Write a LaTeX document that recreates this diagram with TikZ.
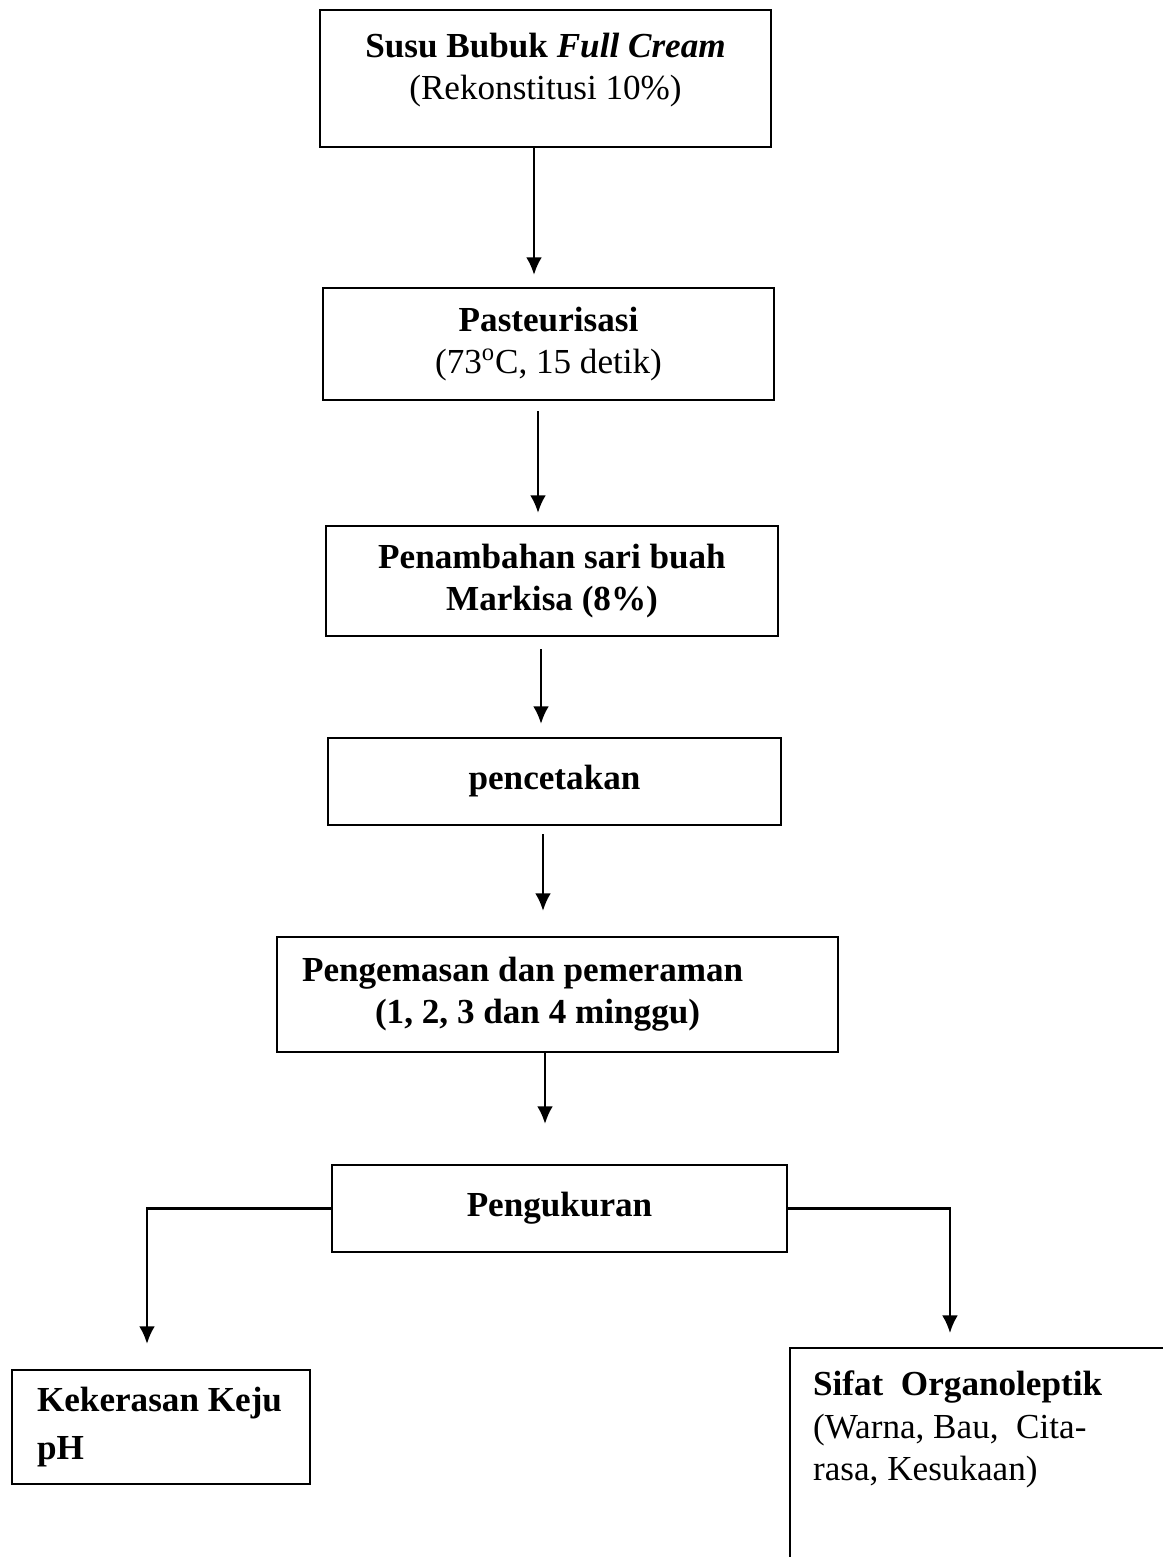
\documentclass[tikz,border=0pt]{standalone}
\usepackage{fontspec}
\setmainfont{Liberation Serif}
\usetikzlibrary{arrows.meta}

\begin{document}
\begin{tikzpicture}[
                    x=0.02cm, y=-0.02cm,
                    ->,
                    >={Latex[length=10pt,width=9pt]},
                    shorten <=0.2cm,
                    shorten >=0.24cm,
                    line width=1.3pt,
                    font=\fontsize{20}{24}\selectfont
                ]
                \tikzstyle{box}=[draw=black,align=center,inner sep=0pt,text=black]

                \useasboundingbox (0,0) rectangle (1162,1557);

                \node[box,minimum width=9.02cm,minimum height=2.74cm] (susu) at (545.5,78.5)
                    {\textbf{Susu Bubuk \textit{Full Cream}}\\(Rekonstitusi 10\%)\rule[-0.5cm]{0pt}{0pt}};
                \node[box,minimum width=9.02cm,minimum height=2.24cm] (pasteur) at (548.5,344)
                    {\textbf{Pasteurisasi}\\(73\textsuperscript{o}C, 15 detik)};
                \node[box,font=\fontsize{20}{24}\selectfont\bfseries,minimum width=9.04cm,minimum height=2.2cm] (markisa) at (552,581)
                    {Penambahan sari buah\\Markisa (8\%)};
                \node[box,font=\fontsize{20}{24}\selectfont\bfseries,minimum width=9.06cm,minimum height=1.74cm] (cetak) at (554.5,781.5)
                    {pencetakan};
                \node[box,font=\fontsize{20}{24}\selectfont\bfseries,align=flush left,text width=10.22cm,minimum width=11.22cm,minimum height=2.3cm] (kemas) at (557.5,994.5)
                    {Pengemasan dan pemeraman\\\hspace*{1.46cm}(1, 2, 3 dan 4 minggu)};
                \node[box,font=\fontsize{20}{24}\selectfont\bfseries,minimum width=9.1cm,minimum height=1.74cm] (ukur) at (559.5,1208.5)
                    {Pengukuran};
                \node[box,font=\fontsize{20}{24}\selectfont\bfseries,align=flush left,text width=4.96cm,minimum width=5.96cm,minimum height=2.28cm] (keras) at (161,1427)
                    {Kekerasan Keju\\[3pt]pH};
                \node[box,anchor=north west,inner sep=0.46cm] (organo) at (789,1347)
                    {\parbox[t][4.2cm][t]{7.1cm}{\raggedright\textbf{Sifat~~Organoleptik}\\(Warna, Bau,~~Cita-\\rasa, Kesukaan)}};

                \coordinate (a1) at ([xshift=-0.23cm]susu.south);
                \coordinate (a2) at ([xshift=-0.21cm]pasteur.south);
                \coordinate (a3) at ([xshift=-0.22cm]markisa.south);
                \coordinate (a4) at ([xshift=-0.23cm]cetak.south);
                \coordinate (a5) at ([xshift=-0.25cm]kemas.south);
                \coordinate (kiri) at ([xshift=-0.28cm]keras.north);
                \coordinate (kanan) at ([xshift=3.22cm]organo.north west);

                \path
                (a1) edge[shorten <=0pt] (a1 |- pasteur.north)
                (a2) edge (a2 |- markisa.north)
                (a3) edge[shorten <=0.24cm,shorten >=0.26cm] (a3 |- cetak.north)
                (a4) edge[shorten <=0.16cm,shorten >=0.5cm] (a4 |- kemas.north)
                (a5) edge[shorten <=0pt,shorten >=0.8cm] (a5 |- ukur.north)
                (ukur.west) edge[shorten <=0pt,shorten >=0.5cm,to path={-| (\tikztotarget)}] (kiri)
                (ukur.east) edge[shorten <=0pt,shorten >=0.28cm,to path={-| (\tikztotarget)}] (kanan)
                ;

            \end{tikzpicture}
\end{document}
